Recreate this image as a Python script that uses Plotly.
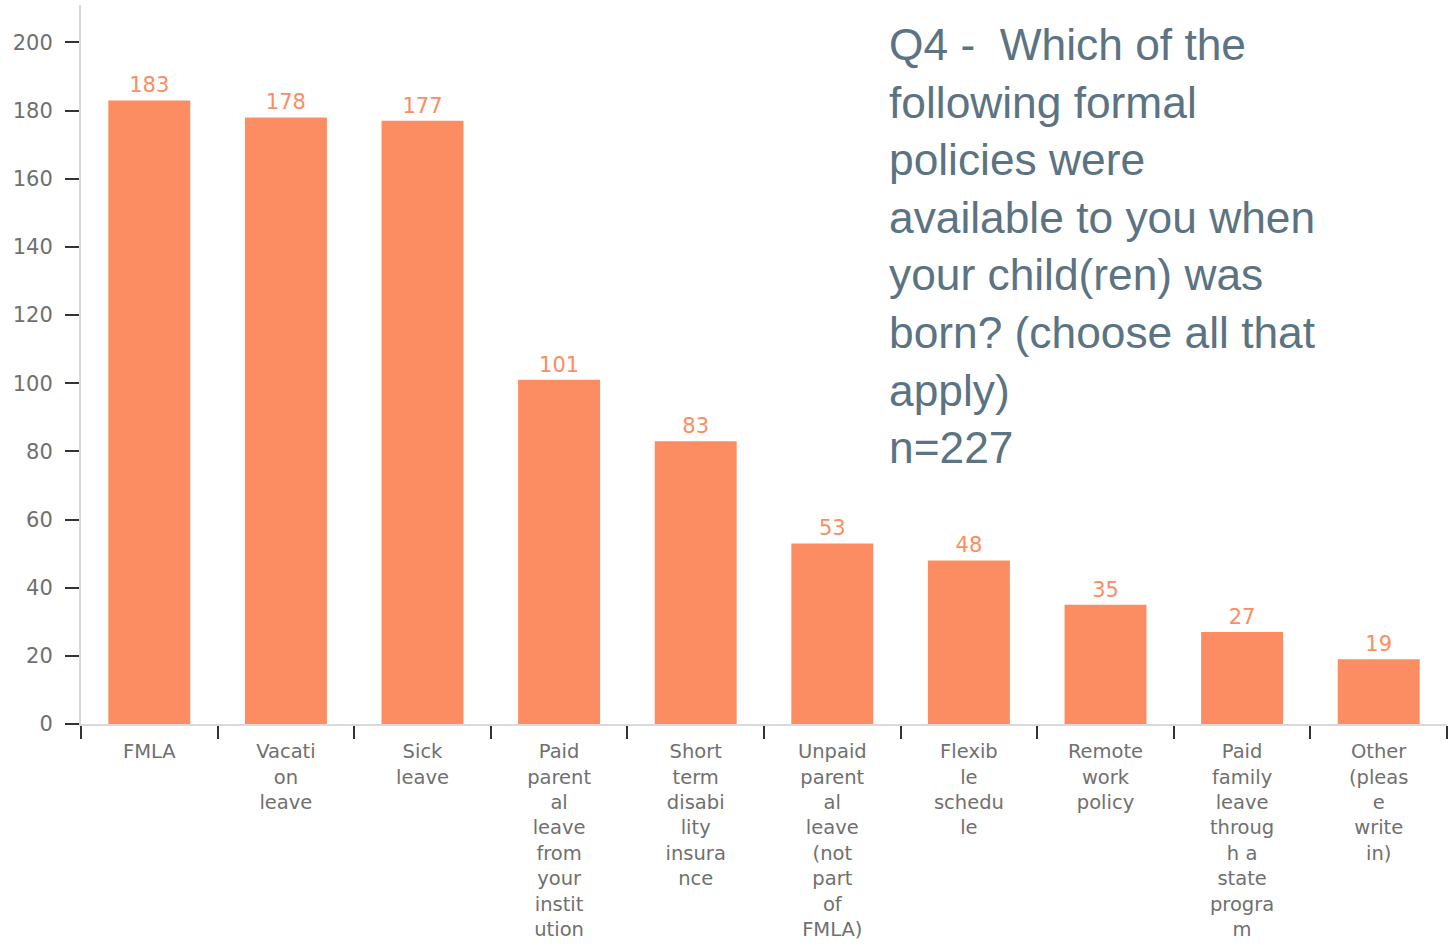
import plotly.graph_objects as go

categories = [
    "FMLA",
    "Vacati<br>on<br>leave",
    "Sick<br>leave",
    "Paid<br>parent<br>al<br>leave<br>from<br>your<br>instit<br>ution",
    "Short<br>term<br>disabi<br>lity<br>insura<br>nce",
    "Unpaid<br>parent<br>al<br>leave<br>(not<br>part<br>of<br>FMLA)",
    "Flexib<br>le<br>schedu<br>le",
    "Remote<br>work<br>policy",
    "Paid<br>family<br>leave<br>throug<br>h a<br>state<br>progra<br>m",
    "Other<br>(pleas<br>e<br>write<br>in)",
]
counts = [183, 178, 177, 101, 83, 53, 48, 35, 27, 19]
y_ticks = [0, 20, 40, 60, 80, 100, 120, 140, 160, 180, 200]

title_text = ("Q4 -  Which of the<br>following formal<br>policies were<br>"
              "available to you when<br>your child(ren) was<br>"
              "born? (choose all that<br>apply)<br>n=227")

BAR = "#FC8D62"

fig = go.Figure(
    go.Bar(
        x=categories,
        y=counts,
        width=0.6,
        marker=dict(color=BAR, line=dict(width=0)),
        text=[str(v) for v in counts],
        textposition="outside",
        cliponaxis=False,
        textfont=dict(family="DejaVu Sans", size=21, color=BAR),
    )
)

fig.update_layout(
    width=1451,
    height=946,
    margin=dict(l=81, r=4, t=5, b=222),
    paper_bgcolor="white",
    plot_bgcolor="white",
    showlegend=False,
    bargap=0.4,
    xaxis=dict(
        type="category",
        range=[-0.5, 9.5],
        showline=True,
        linecolor="#d9d9d9",
        linewidth=2,
        showgrid=False,
        ticks="outside",
        tickson="boundaries",
        ticklen=13,
        tickwidth=2,
        tickcolor="#333333",
        ticklabelstandoff=9,
        tickfont=dict(family="DejaVu Sans", size=19.5, color="#707070"),
        tickangle=0,
    ),
    yaxis=dict(
        range=[0, 211],
        tickvals=y_ticks,
        showline=True,
        linecolor="#d9d9d9",
        linewidth=2,
        showgrid=False,
        zeroline=False,
        ticks="outside",
        ticklen=14,
        tickwidth=2,
        tickcolor="#333333",
        ticklabelstandoff=8,
        tickfont=dict(family="DejaVu Sans", size=21, color="#707070"),
    ),
    annotations=[
        dict(
            text=title_text,
            xref="paper",
            yref="paper",
            x=(887 - 81) / 1366,
            y=(724 - 18) / 719,
            xanchor="left",
            yanchor="top",
            align="left",
            showarrow=False,
            font=dict(family="Liberation Sans", size=44.3, color="#5B7382"),
        )
    ],
)

fig.write_html("out.html")
